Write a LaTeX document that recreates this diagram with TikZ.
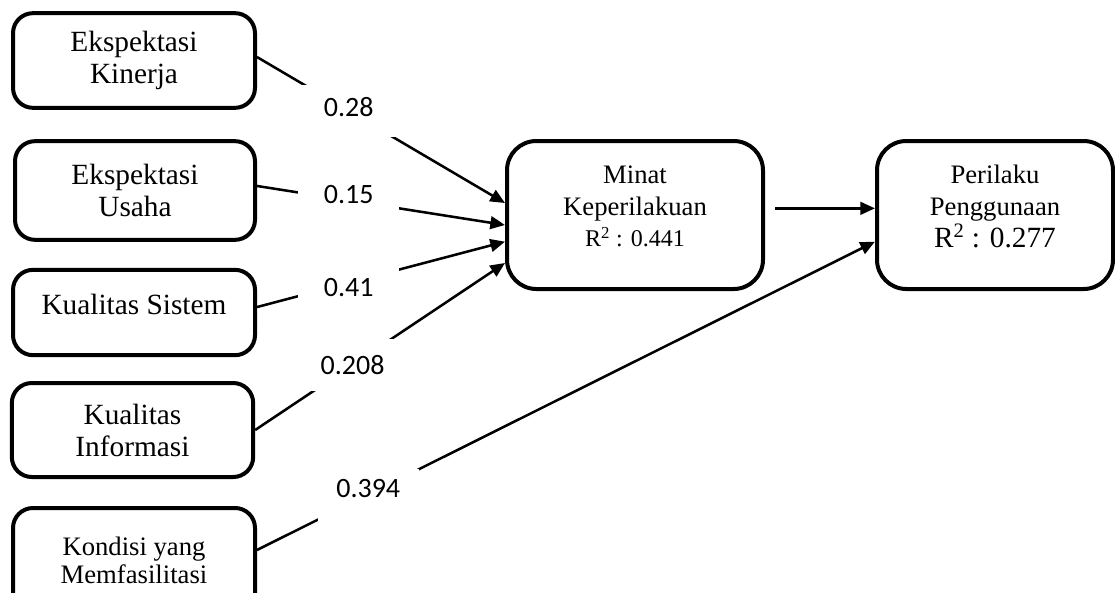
\documentclass[tikz,border=0pt]{standalone}
\usepackage{fontspec}
\setmainfont{Liberation Serif}
\newfontfamily\coeffont{Carlito}
\usetikzlibrary{arrows.meta}

\begin{document}
\begin{tikzpicture}[x=0.75pt,y=-0.75pt,>={Triangle[length=11pt,width=9.5pt]},
	var/.style={draw, rectangle, line width=3pt, rounded corners=15pt, align=center, inner sep=0pt, font=\fontsize{22}{24}\selectfont},
	lat/.style={var, rounded corners=22pt, minimum height=111pt, text depth=13pt, font=\fontsize{20}{23.8}\selectfont},
	coef/.style={fill=white, minimum width=76pt, minimum height=39pt, inner sep=0pt, font=\coeffont\fontsize{21}{25}\selectfont},
	lnk/.style={line width=1.9pt}]
	\useasboundingbox (0,0) rectangle (1115,593);
				\node[var, minimum width=181.5pt, minimum height=71pt]
				(k1) at (134,60.5) {Ekspektasi\\Kinerja};
				\node[var, minimum width=180pt, minimum height=74pt]
				(k2) at (135,190.5) {Ekspektasi\\Usaha};
				\node[var, minimum width=181.5pt, minimum height=64pt, text depth=12pt]
				(k3) at (134,312.5) {Kualitas Sistem};
				\node[var, minimum width=181pt, minimum height=70.5pt]
				(k4) at (132.5,430) {Kualitas\\Informasi};
				\node[var, minimum width=181.5pt, minimum height=84pt, text depth=6pt, font=\fontsize{20}{21}\selectfont]
				(k5) at (134,564) {Kondisi yang\\Memfasilitasi};
				\node[lat, minimum width=192pt]
				(m) at (635,215) {Minat\\Keperilakuan\\\fontsize{18}{23.8}\selectfont R\textsuperscript{2} : 0.441};
				\node[lat, minimum width=177pt]
				(p) at (995,215) {Perilaku\\Penggunaan\\\fontsize{22}{23.8}\selectfont R\textsuperscript{2} : 0.277};
				\draw[lnk,->] ([yshift=2.6pt]k1.east) --
				node[coef, pos=0.37, text depth=6pt] {0.28}
				([yshift=9pt]m.west);
				\draw[lnk,->] ([yshift=3.4pt]k2.east) --
				node[coef, pos=0.37, text depth=9pt] {0.15}
				([yshift=-7.5pt]m.west);
				\draw[lnk,->] ([yshift=4.1pt]k3.east) --
				node[coef, pos=0.37, text height=21pt] {0.41}
				([yshift=-20pt]m.west);
				\draw[lnk,->] (k4.east) --
				node[coef, pos=0.39] {0.208}
				([yshift=-36pt]m.west);
				\draw[lnk,->] ([yshift=10.5pt]k5.east) --
				node[coef, pos=0.18, text depth=9pt] {0.394}
				([yshift=-20pt]p.west);
				\draw[lnk,->] ([xshift=7.5pt,yshift=5pt]m.east) -- ([yshift=5pt]p.west);
			\end{tikzpicture}
\end{document}
